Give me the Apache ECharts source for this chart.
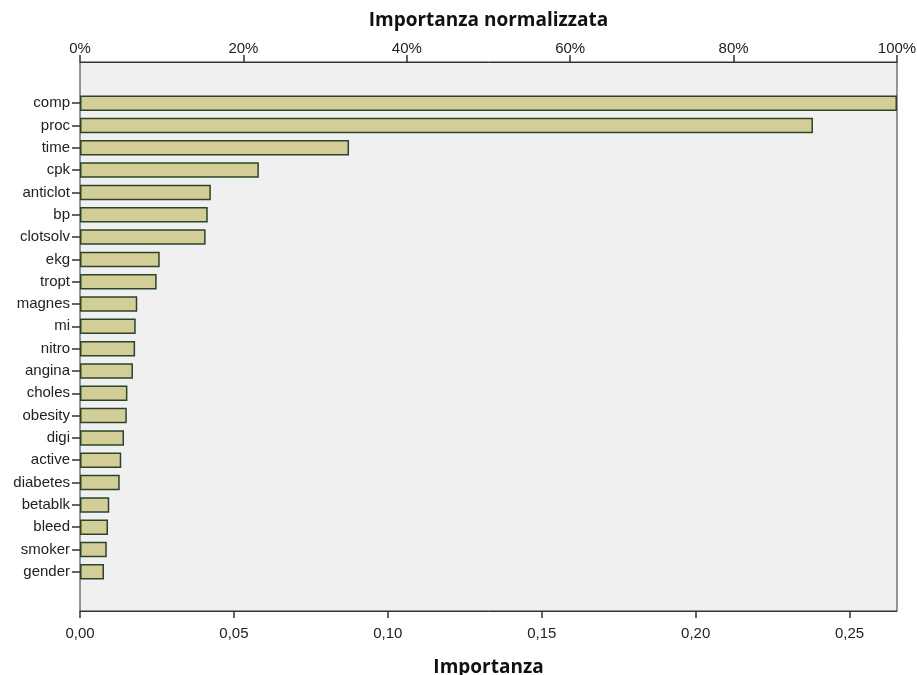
<!DOCTYPE html>
<html>
<head>
<meta charset="utf-8">
<script src="https://cdn.jsdelivr.net/npm/echarts@6/dist/echarts.min.js"></script>
<style>
html,body{margin:0;padding:0;background:#fff;}
#chart{width:917px;height:675px;}
</style>
</head>
<body>
<div id="chart"></div>
<script>
const categories = ['comp','proc','time','cpk','anticlot','bp','clotsolv','ekg','tropt','magnes','mi','nitro','angina','choles','obesity','digi','active','diabetes','betablk','bleed','smoker','gender'];
const importance = [0.2654,0.2381,0.0874,0.0581,0.0425,0.0415,0.0408,0.0259,0.0249,0.0186,0.0181,0.0179,0.0172,0.0154,0.0152,0.0143,0.0134,0.0129,0.0095,0.0091,0.0087,0.0078];
const bottomTitle = 'Importanza';
const topTitle = 'Importanza normalizzata';

const maxImp = Math.max.apply(null, importance);
const tickFont = {fontFamily:'"Liberation Sans", Arial, sans-serif', fontSize:15, color:'#222'};
const titleFont = {fontFamily:'"Open Sans", sans-serif', fontSize:19, fontWeight:'bold', color:'#111'};

const chart = echarts.init(document.getElementById('chart'), null, {renderer:'canvas'});
chart.setOption({
  animation:false,
  backgroundColor:'#fff',
  grid:[
    {left:80, right:20, top:62, bottom:64, outerBoundsMode:'none', containLabel:false, show:true, backgroundColor:'#f0f0f0', borderColor:'#333', borderWidth:1},
    {left:80, right:20, top:92, bottom:92, outerBoundsMode:'none', containLabel:false}
  ],
  xAxis:[
    {type:'value', gridIndex:0, position:'bottom', min:0, max:maxImp, interval:0.05,
     name:bottomTitle, nameLocation:'middle', nameGap:47, nameTextStyle:titleFont,
     axisLine:{show:true, lineStyle:{color:'#333', width:1}},
     axisTick:{show:true, length:7, lineStyle:{color:'#333', width:1.5}},
     axisLabel:Object.assign({margin:15, showMaxLabel:false, formatter:v=>v.toFixed(2).replace('.', ',')}, tickFont),
     splitLine:{show:false}},
    {type:'value', gridIndex:0, position:'top', min:0, max:100, interval:20,
     name:topTitle, nameLocation:'middle', nameGap:32, nameTextStyle:titleFont,
     axisLine:{show:true, lineStyle:{color:'#333', width:1}},
     axisTick:{show:true, length:7, lineStyle:{color:'#333', width:1.5}},
     axisLabel:Object.assign({margin:6, formatter:v=>v+'%'}, tickFont),
     splitLine:{show:false}},
    {type:'value', gridIndex:1, min:0, max:maxImp, show:false}
  ],
  yAxis:[
    {type:'category', gridIndex:0, data:[''], show:false},
    {type:'category', gridIndex:1, data:categories, inverse:true,
     axisLine:{show:false},
     axisTick:{show:true, alignWithLabel:true, length:8, lineStyle:{color:'#333', width:1.5}},
     axisLabel:Object.assign({margin:10}, tickFont),
     splitLine:{show:false}}
  ],
  series:[{
    type:'bar', xAxisIndex:2, yAxisIndex:1,
    data:importance, barWidth:15.5,
    itemStyle:{color:'#d3ce98', borderColor:'#2a452a', borderWidth:1.5}
  }]
});
</script>
</body>
</html>
